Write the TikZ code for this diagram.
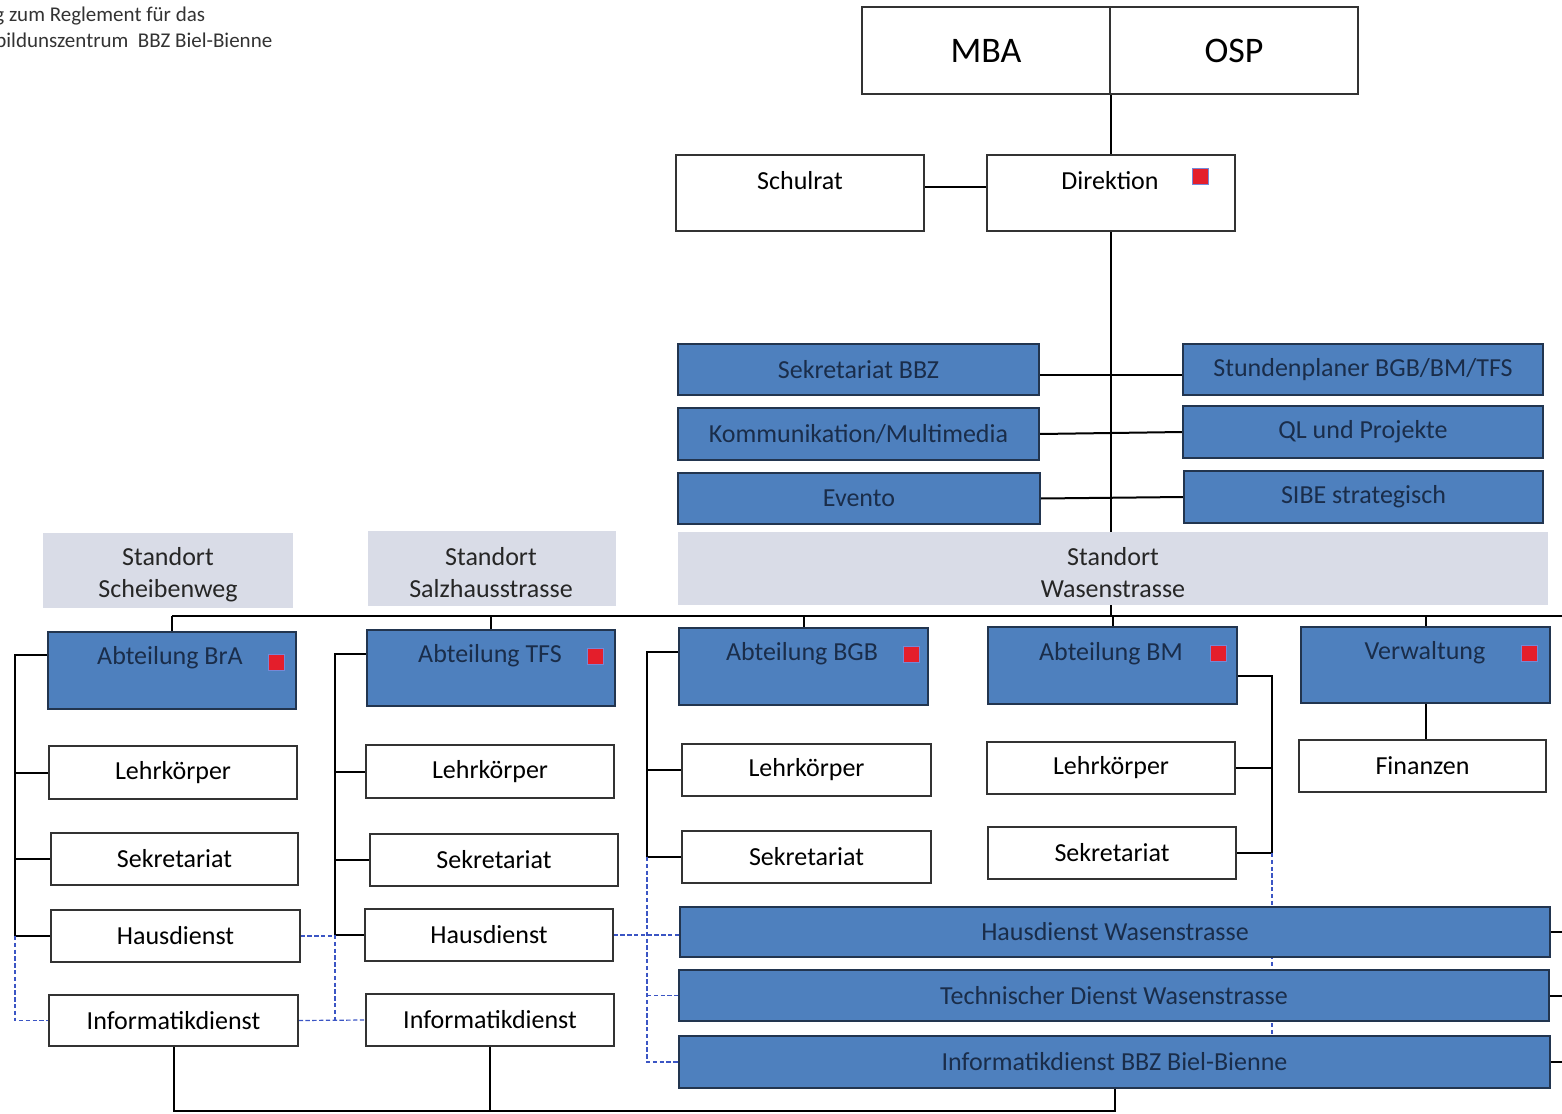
\documentclass[tikz,border=0pt]{standalone}
\usepackage{fontspec}
\setmainfont{Carlito}
\usetikzlibrary{backgrounds}
\definecolor{bblue}{HTML}{4E80BE}
\definecolor{bborder}{HTML}{22354F}
\definecolor{btext}{HTML}{1A2D4A}
\definecolor{sgray}{HTML}{D9DCE7}
\definecolor{dashc}{HTML}{3B55C4}
\definecolor{redsq}{HTML}{E41E2B}
\newcommand\obox[7]{\node[#1, minimum width={(#5-#3)*0.5pt}, minimum height={(#6-#4)*0.5pt}] (#2) at ({(#3+#5)/2},{(#4+#6)/2}) {#7};}
\tikzset{
  base/.style={inner sep=0pt, font=\fontsize{13}{16}\selectfont, align=center},
  wbox/.style={base, draw=black!80, line width=0.6pt, fill=white},
  bbox/.style={base, draw=bborder, line width=0.6pt, fill=bblue, text=btext},
  sbox/.style={base, fill=sgray, text=black!85},
  lbl/.style={inner sep=0pt, font=\fontsize{13}{16}\selectfont, align=center},
  rsq/.style={fill=redsq, draw=dashc!70, line width=0.3pt, minimum size=8pt, inner sep=0pt},
  conn/.style={line width=1pt, black},
  dconn/.style={line width=0.6pt, dashc, dash pattern=on 2.2pt off 1.2pt},
}
\begin{document}
\begin{tikzpicture}[x=0.5pt,y=-0.5pt]
\useasboundingbox (0,0) rectangle (1562,1113);
% header text
\node[anchor=west, inner sep=0pt, text=black!80, font=\fontsize{10.5}{12}\selectfont] (hdrA) at (-6,16) {g zum Reglement für das};
\node[anchor=west, inner sep=0pt, text=black!80, font=\fontsize{10.5}{12}\selectfont] (hdrB) at (-5,40) {bildunszentrum\ \ BBZ Biel-Bienne};
% top
\obox{wbox, font=\fontsize{18}{20}\selectfont}{mba}{862}{7}{1110}{94}{MBA}
\obox{wbox, font=\fontsize{18}{20}\selectfont}{osp}{1110}{7}{1358}{94}{OSP}
\obox{wbox}{schulrat}{676}{155}{924}{231}{}
\node[lbl] (schulratT) at (800,181) {Schulrat};
\obox{wbox}{direktion}{987}{155}{1235}{231}{}
\node[lbl] (direktionT) at (1110,181) {Direktion};
\node[rsq] (rdir) at (1200,176) {};
% staff boxes
\obox{bbox}{sek}{678}{344}{1039}{395}{Sekretariat BBZ}
\obox{bbox}{kom}{678}{408}{1039}{460}{Kommunikation/Multimedia}
\obox{bbox}{evento}{678}{473}{1040}{524}{Evento}
\obox{bbox}{stund}{1183}{344}{1543}{395}{Stundenplaner BGB/BM/TFS}
\obox{bbox}{ql}{1183}{406}{1543}{458}{QL und Projekte}
\obox{bbox}{sibe}{1184}{471}{1543}{523}{SIBE strategisch}
% Standorte
\obox{sbox}{scheib}{43}{533}{293}{608}{}
\node[lbl, text=black!85] (scheibT) at (168,575) {Standort\\Scheibenweg};
\obox{sbox}{salz}{368}{531}{616}{606}{}
\node[lbl, text=black!85] (salzT) at (491,573) {Standort\\Salzhausstrasse};
\obox{sbox}{wasen}{678}{532}{1548}{605}{}
\node[lbl, text=black!85] (wasenT) at (1113,573) {Standort\\Wasenstrasse};
% Abteilungen
\obox{bbox}{bra}{48}{632}{296}{709}{}
\node[lbl, text=btext] (braT) at (170,658) {Abteilung BrA};
\node[rsq] (rbra) at (276,662) {};
\obox{bbox}{tfs}{367}{630}{615}{706}{}
\node[lbl, text=btext] (tfsT) at (490,656) {Abteilung TFS};
\node[rsq] (rtfs) at (595,656) {};
\obox{bbox}{bgb}{679}{628}{928}{705}{}
\node[lbl, text=btext] (bgbT) at (802,654) {Abteilung BGB};
\node[rsq] (rbgb) at (911,654) {};
\obox{bbox}{bm}{988}{627}{1237}{704}{}
\node[lbl, text=btext] (bmT) at (1111,654) {Abteilung BM};
\node[rsq] (rbm) at (1218,653) {};
\obox{bbox}{verw}{1301}{627}{1550}{703}{}
\node[lbl, text=btext] (verwT) at (1425,653) {Verwaltung};
\node[rsq] (rverw) at (1529,653) {};
% column 1
\obox{wbox}{lk1}{49}{746}{297}{799}{Lehrkörper}
\obox{wbox}{sk1}{51}{833}{298}{885}{Sekretariat}
\obox{wbox}{hd1}{51}{910}{300}{962}{Hausdienst}
\obox{wbox}{id1}{49}{995}{298}{1046}{Informatikdienst}
% column 2
\obox{wbox}{lk2}{366}{745}{614}{798}{Lehrkörper}
\obox{wbox}{sk2}{370}{834}{618}{886}{Sekretariat}
\obox{wbox}{hd2}{365}{909}{613}{961}{Hausdienst}
\obox{wbox}{id2}{366}{994}{614}{1046}{Informatikdienst}
% column 3
\obox{wbox}{lk3}{682}{744}{931}{796}{Lehrkörper}
\obox{wbox}{sk3}{682}{831}{931}{883}{Sekretariat}
% column 4
\obox{wbox}{lk4}{987}{742}{1235}{794}{Lehrkörper}
\obox{wbox}{sk4}{988}{827}{1236}{879}{Sekretariat}
% column 5
\obox{wbox}{fin}{1299}{740}{1546}{792}{Finanzen}
% wide boxes
\obox{bbox}{hdw}{680}{907}{1550}{957}{Hausdienst Wasenstrasse}
\obox{bbox}{tdw}{679}{970}{1549}{1021}{Technischer Dienst Wasenstrasse}
\obox{bbox}{idw}{679}{1036}{1550}{1088}{Informatikdienst BBZ Biel-Bienne}
% coordinates
\coordinate (busL) at (172,616);
\coordinate (busR) at (1562,616);
\coordinate (s1) at (15,0);
\coordinate (s2) at (335,0);
\coordinate (s3) at (647,0);
\coordinate (s4) at (1272,0);
\coordinate (bot) at (0,1111);
\begin{scope}[on background layer]
% top connectors
\draw[conn] (mba.south east) -- (mba.south east |- direktion.north);
\draw[conn] ([yshift=3pt]schulrat.east) -- ([yshift=3pt]direktion.west);
\draw[conn] (direktion.south) -- (direktion.south |- busL);
\draw[conn] ([yshift=-2.5pt]sek.east) -- ([yshift=-2.5pt]stund.west);
\draw[conn] (kom.east) -- (ql.west);
\draw[conn] (evento.east) -- (sibe.west);
% bus
\draw[conn] (busL) -- (busR);
\draw[conn] (bra.north) -- (bra.north |- busL);
\draw[conn] (tfs.north) -- (tfs.north |- busL);
\draw[conn] (bgb.north) -- (bgb.north |- busL);
\draw[conn] (bm.north) -- (bm.north |- busL);
\draw[conn] (verw.north) -- (verw.north |- busL);
% column 1
\draw[conn] ([yshift=7.75pt]bra.west) -| (s1 |- hd1.west) -- (hd1.west);
\draw[conn] (lk1.west) -- (s1 |- lk1.west);
\draw[conn] (sk1.west) -- (s1 |- sk1.west);
\draw[dconn] (s1 |- hd1.west) |- (id1.west);
% column 2
\draw[conn] ([yshift=7pt]tfs.west) -| (s2 |- hd2.west) -- (hd2.west);
\draw[conn] (lk2.west) -- (s2 |- lk2.west);
\draw[conn] (sk2.west) -- (s2 |- sk2.west);
\draw[dconn] (hd1.east) -- (s2 |- hd1.east);
\draw[dconn] (s2 |- hd2.west) -- (s2 |- id2.west);
\draw[dconn] (id1.east) -- (id2.west);
% column 3
\draw[conn] ([yshift=7.25pt]bgb.west) -| (s3 |- sk3.west) -- (sk3.west);
\draw[conn] (lk3.west) -- (s3 |- lk3.west);
\draw[dconn] (s3 |- sk3.west) |- (idw.west);
\draw[dconn] (hd2.east) -- (hd2.east -| hdw.west);
\draw[dconn] (s3 |- tdw.west) -- (tdw.west);
% column 4
\draw[conn] ([yshift=-5.25pt]bm.east) -| (s4 |- sk4.east) -- (sk4.east);
\draw[conn] (lk4.east) -- (s4 |- lk4.east);
\draw[dconn] (s4 |- sk4.east) -- (s4 |- idw.north);
% column 5
\draw[conn] (verw.south) -- (verw.south |- fin.north);
% right stubs
\draw[conn] (hdw.east) -- (hdw.east -| busR);
\draw[conn] (tdw.east) -- (tdw.east -| busR);
\draw[conn] (idw.east) -- (idw.east -| busR);
% bottom
\draw[conn] (id1.south) -- (id1.south |- bot) -- (idw.south |- bot) -- (idw.south);
\draw[conn] (id2.south) -- (id2.south |- bot);
\end{scope}
\end{tikzpicture}
\end{document}
